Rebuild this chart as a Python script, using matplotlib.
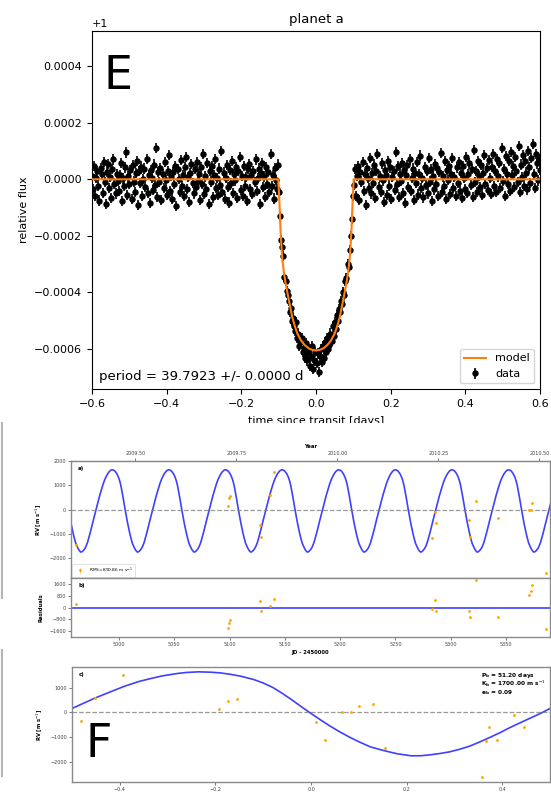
import numpy as np
import matplotlib.pyplot as plt
from matplotlib.lines import Line2D
from matplotlib.transforms import Bbox, TransformedBbox

# === Panel E: transit light curve (flux offsets in ppm, regular cadence) ===
flux_pre = [
    12, -35, 48, -60, 5, 30, -22, -75, 40, 18, -48, 62, -10, -88, 25, 55, -30, 8, -65, 35, 70, -15, -50, 20, -5,
    -40, 15, 58, -78, 3, -25, 42, 95, -55, 10, -18, 33, -70, 50, -8, -45, 22, 65, -92, 28, -12, 45, -58, 0, 38,
    -28, 72, -48, 14, -85, 32, 6, -38, 52, -20, 110, -62, 25, -10, 40, -72, 18, -32, 60, -4, -55, 30, 85, -42, 12,
    -68, 26, -15, 48, -95, 36, 2, -45, 68, -25, 16, -60, 42, 78, -35, 9, -80, 22, 55, -12, -50, 35, -28, 62, -6,
    20, -74, 44, -18, 90, -52, 10, -36, 58, -88, 28, -8, 46, -64, 15, 72, -30, 4, -56, 38, -20, 100, -44, 24, -70,
    6, 50, -26, -82, 34, -14, 64, -48, 18, -4, 42, -66, 30, 80, -38, 12, -58, 46, -22, 8, -76, 36, 54, -34, 16,
    -52, 28, -10, 70, -42, 4, 38, -86, 22, 58, -28, 10, -62, 44, -16, 26, -46, 88, -24, 14, -68, 40, -2, -36, 52,
]
flux_transit = [
    -45, -130, -215, -240, -270, -345, -360, -395, -410, -430, -470, -455, -500, -490, -520, -535, -505, -560,
    -545, -590, -575, -560, -610, -595, -630, -580, -640, -615, -600, -660, -625, -590, -670, -640, -610,
    -650, -615, -680, -625, -600, -645, -590, -630, -575, -610, -560, -600, -585, -545, -570, -520, -555, -505,
    -530, -480, -500, -460, -470, -430, -440, -400, -410, -360, -350, -300, -310, -250, -200, -140, -60,
]
flux_post = [
    -20, 35, -58, 12, 48, -72, 26, -8, 60, -40, 18, -90, 40, 5, -30, 74, -50, 22, -14, 52, -66, 30, 88, -26, 10,
    -46, 56, -4, -80, 34, 16, -56, 66, -22, 42, -70, 8, 28, -38, 96, -18, 46, -62, 20, -6, 58, -48, 32, -84, 14,
    50, -28, 70, -42, 4, 38, -74, 24, -12, 62, -54, 18, 84, -32, 6, -64, 44, -20, 28, -50, 76, -8, 36, -78, 12,
    -36, 54, -16, 40, -60, 26, 92, -44, 10, -24, 66, -70, 32, -2, 48, -52, 20, 74, -30, 8, -58, 42, -14, 60, -40,
    24, -66, 46, 6, -34, 80, -48, 18, 56, -20, 36, -62, 104, -10, 30, -44, 64, 12, -28, 50, -56, 22, 86, -16, 40,
    -38, 68, 4, -52, 44, 90, -24, 28, -46, 72, 10, 58, -32, 112, -6, 36, -60, 82, 20, -18, 64, -40, 96, 14, 48,
    -28, 78, 30, -10, 118, -44, 52, 8, 86, -22, 66, 24, -36, 100, 42, -14, 74, 124, 18, -30, 90, 56, -4, 70, 34,
]
flux_err_ppm = 18

lc_model_t = [-0.60, -0.101, -0.098, -0.095, -0.091, -0.086, -0.081, -0.076, -0.070, -0.064, -0.057,
              -0.050, -0.040, -0.030, -0.020, -0.010, 0.000, 0.010, 0.020, 0.030, 0.040, 0.050, 0.057,
              0.064, 0.070, 0.076, 0.081, 0.086, 0.091, 0.095, 0.098, 0.101, 0.60]
lc_model_ppm = [0, 0, -80, -180, -270, -330, -370, -405, -445, -485, -518, -545, -570, -586, -597, -603,
                -605, -603, -597, -586, -570, -545, -518, -485, -445, -405, -370, -330, -270, -180, -80, 0, 0]

lc_xticks = [-0.6, -0.4, -0.2, 0.0, 0.2, 0.4, 0.6]
lc_yticks = [-0.0006, -0.0004, -0.0002, 0.0, 0.0002, 0.0004]

# === Panel F: radial velocities ===
rv_jd = [4961.4, 5098.3, 5099.2, 5100.4, 5127.8, 5128.7, 5136.8, 5140.1, 5283.3, 5286.0,
         5286.9, 5316.5, 5317.4, 5322.5, 5342.7, 5371.0, 5372.3, 5373.2, 5386.3]
rv_ms = [-1475, 135, 463, 574, -627, -1135, 615, 1529, -1176, -82,
         -574, -422, -1135, 340, -340, -12, 0, 258, -2623]
rv_resid = [204, -1409, -1042, -817, 408, -225, 88, 545, -88, 477,
            -204, -204, -660, 1859, -613, 865, 1137, 1518, -1450]
rv_phase = [0.155, -0.193, -0.174, -0.154, 0.372, 0.390, -0.451, -0.393, 0.367, 0.425,
            0.446, 0.011, 0.030, 0.129, -0.481, 0.064, 0.083, 0.101, 0.358]
rv_fold = [-1452, 145, 443, 548, -605, -1117, 589, 1504, -1170, -97,
           -581, -403, -1104, 347, -339, 0, 12, 241, -2596]
rv_err = 40

# one orbit of the fitted model, phase-folded
model_phase = [-0.50, -0.475, -0.451, -0.42, -0.39, -0.36, -0.335, -0.31, -0.28, -0.26, -0.235, -0.21,
               -0.19, -0.17, -0.147, -0.12, -0.10, -0.08, -0.06, -0.04, -0.02, -0.003, 0.02, 0.04,
               0.06, 0.08, 0.10, 0.124, 0.145, 0.158, 0.18, 0.21, 0.23, 0.249, 0.27, 0.29, 0.31,
               0.332, 0.35, 0.374, 0.395, 0.415, 0.435, 0.457, 0.48, 0.50]
model_rv = [161, 380, 589, 830, 1060, 1250, 1371, 1480, 1572, 1615, 1640, 1625,
            1597, 1545, 1464, 1330, 1190, 1010, 770, 510, 230, 0, -300, -550,
            -780, -990, -1180, -1387, -1500, -1565, -1665, -1750, -1745, -1710, -1655, -1589, -1490,
            -1359, -1215, -1008, -820, -621, -440, -242, -40, 161]
P_b = 51.20
T0 = 5210.5

year_ticks = [2009.50, 2009.75, 2010.00, 2010.25, 2010.50]
year_labels = ["2009.50", "2009.75", "2010.00", "2010.25", "2010.50"]
jd_ticks = [5000, 5050, 5100, 5150, 5200, 5250, 5300, 5350]
rv_ticks = [-2000, -1000, 0, 1000, 2000]
res_ticks = [-1600, -800, 0, 800, 1600]
phase_ticks = [-0.4, -0.2, 0.0, 0.2, 0.4]

# === Figure ===
W, H = 551, 792
plt.rcParams["font.size"] = 8
fig = plt.figure(figsize=(W / 100, H / 100), dpi=100)


def box(l, t, r, b):
    return [l / W, 1 - b / H, (r - l) / W, (b - t) / H]


# -----------------------------------------------------------
# Top: light curve
# -----------------------------------------------------------
ax = fig.add_axes(box(92, 31, 540, 389))
flux = np.concatenate([flux_pre, flux_transit, flux_post]) * 1e-6 + 1
t = np.linspace(-0.6, 0.6, len(flux))
ax.errorbar(t, flux, yerr=flux_err_ppm * 1e-6, fmt="o", color="k", ms=3.6,
            elinewidth=1.2, label="data", zorder=2)
ax.plot(lc_model_t, np.array(lc_model_ppm) * 1e-6 + 1, color="tab:orange",
        lw=1.5, label="model", zorder=3)
ax.set_xlim(-0.6, 0.6)
ax.set_ylim(1 - 0.000741, 1 + 0.000524)
ax.set_xticks(lc_xticks)
ax.set_yticks(np.array(lc_yticks) + 1)
ax.ticklabel_format(axis="y", useOffset=1.0)
ax.set_title("planet a", fontsize=9.5)
ax.set_xlabel("time since transit [days]", fontsize=8, labelpad=5)
ax.set_ylabel("relative flux", fontsize=8)
ax.legend(loc="lower right", fontsize=8)
ax.text(0.015, 0.025, "period = 39.7923 +/- 0.0000 d", transform=ax.transAxes, fontsize=9.5)
ax.text(0.026, 0.935, "E", transform=ax.transAxes, fontsize=33, va="top")

# the source image is cut just below the top of the x label
clip = TransformedBbox(Bbox([[0, 1 - 423 / H], [1, 1]]), fig.transFigure)
ax.xaxis.label.set_clip_box(clip)
ax.xaxis.label.set_clip_on(True)

# -----------------------------------------------------------
# Bottom: RV panels a), b), c)
# -----------------------------------------------------------
blue = "blue"
spine_c = "#8a8a8a"
fs = 3.5


def style(a):
    for s in a.spines.values():
        s.set_color(spine_c)
        s.set_linewidth(1)
    a.tick_params(labelsize=fs, length=2, width=0.5, pad=1.5, colors="#444444")


axa = fig.add_axes(box(71, 461, 550, 578))
axb = fig.add_axes(box(71, 578, 550, 637), sharex=axa)
axc = fig.add_axes(box(72, 667, 550, 782))
for a in (axa, axb, axc):
    style(a)

# a) RV vs time
tt = np.concatenate([T0 + (np.array(model_phase) + n) * P_b for n in range(-6, 5)])
vv = np.tile(model_rv, 11)
axa.plot(tt, vv, color=blue, alpha=0.75, lw=1.2)
axa.axhline(0, color="gray", ls="--", lw=0.9, alpha=0.8)
axa.errorbar(rv_jd, rv_ms, yerr=rv_err, fmt="o", color="orange", ms=2, mew=0,
             elinewidth=0.5, label="RMS=890.86 m s$^{-1}$")
axa.set_xlim(4956.6, 5389.7)
axa.set_ylim(-2820, 2000)
axa.set_yticks(rv_ticks)
axa.tick_params(labelbottom=False)
axa.set_ylabel("RV [m s$^{-1}$]", fontsize=fs + 0.3, fontweight="bold", labelpad=4)
axa.text(0.015, 0.94, "a)", transform=axa.transAxes, fontsize=4, fontweight="bold", va="center")
leg = axa.legend(loc="lower left", fontsize=3.2, borderaxespad=0.3, handlelength=2.5)
leg.get_frame().set_linewidth(0.5)


def jd2yr(x):
    return 2000 + (x - 1545.0) / 365.25


def yr2jd(y):
    return 1545.0 + (y - 2000) * 365.25


sec = axa.secondary_xaxis("top", functions=(jd2yr, yr2jd))
sec.set_xticks(year_ticks)
sec.set_xticklabels(year_labels)
sec.tick_params(labelsize=fs, length=2, width=0.5, pad=1.5, colors="#444444")
sec.spines["top"].set_color(spine_c)
sec.set_xlabel("Year", fontsize=fs + 0.3, fontweight="bold", labelpad=2)

# b) residuals
axb.axhline(0, color=blue, alpha=0.75, lw=1.2)
axb.errorbar(rv_jd, rv_resid, yerr=rv_err, fmt="o", color="orange", ms=2, mew=0, elinewidth=0.5)
axb.set_ylim(-2000, 2000)
axb.set_yticks(res_ticks)
axb.set_xticks(jd_ticks)
axb.set_ylabel("Residuals", fontsize=fs + 0.3, fontweight="bold", labelpad=4)
axb.set_xlabel("JD - 2450000", fontsize=fs + 0.3, fontweight="bold", labelpad=2)
axb.text(0.015, 0.88, "b)", transform=axb.transAxes, fontsize=4, fontweight="bold", va="center")

# c) phase-folded
axc.plot(model_phase, model_rv, color=blue, alpha=0.75, lw=1.2)
axc.axhline(0, color="gray", ls="--", lw=0.9, alpha=0.8)
axc.errorbar(rv_phase, rv_fold, yerr=rv_err, fmt="o", color="orange", ms=2, mew=0, elinewidth=0.5)
axc.set_xlim(-0.5, 0.5)
axc.set_ylim(-2806, 1835)
axc.set_xticks(phase_ticks)
axc.set_yticks(rv_ticks[:-1])
axc.set_ylabel("RV [m s$^{-1}$]", fontsize=fs + 0.3, fontweight="bold", labelpad=4)
axc.text(0.015, 0.937, "c)", transform=axc.transAxes, fontsize=4, fontweight="bold", va="center")
for yy, s in zip([0.930, 0.855, 0.777],
                 ["P$_\\mathbf{b}$ = 51.20 days", "K$_\\mathbf{b}$ = 1700.00 m s$^{-1}$", "e$_\\mathbf{b}$ = 0.09"]):
    axc.text(0.856, yy, s, transform=axc.transAxes, fontsize=4.2, fontweight="bold", va="center")
axc.text(0.029, 0.52, "F", transform=axc.transAxes, fontsize=33, va="top")

# thin grey edges at the far left of the pasted panel
for y0, y1 in [(423, 598), (650, 776)]:
    fig.add_artist(Line2D([1.5 / W, 1.5 / W], [1 - y0 / H, 1 - y1 / H],
                          transform=fig.transFigure, color="#b5b5b5", lw=1.5))

fig.savefig("out.png", dpi=100)
